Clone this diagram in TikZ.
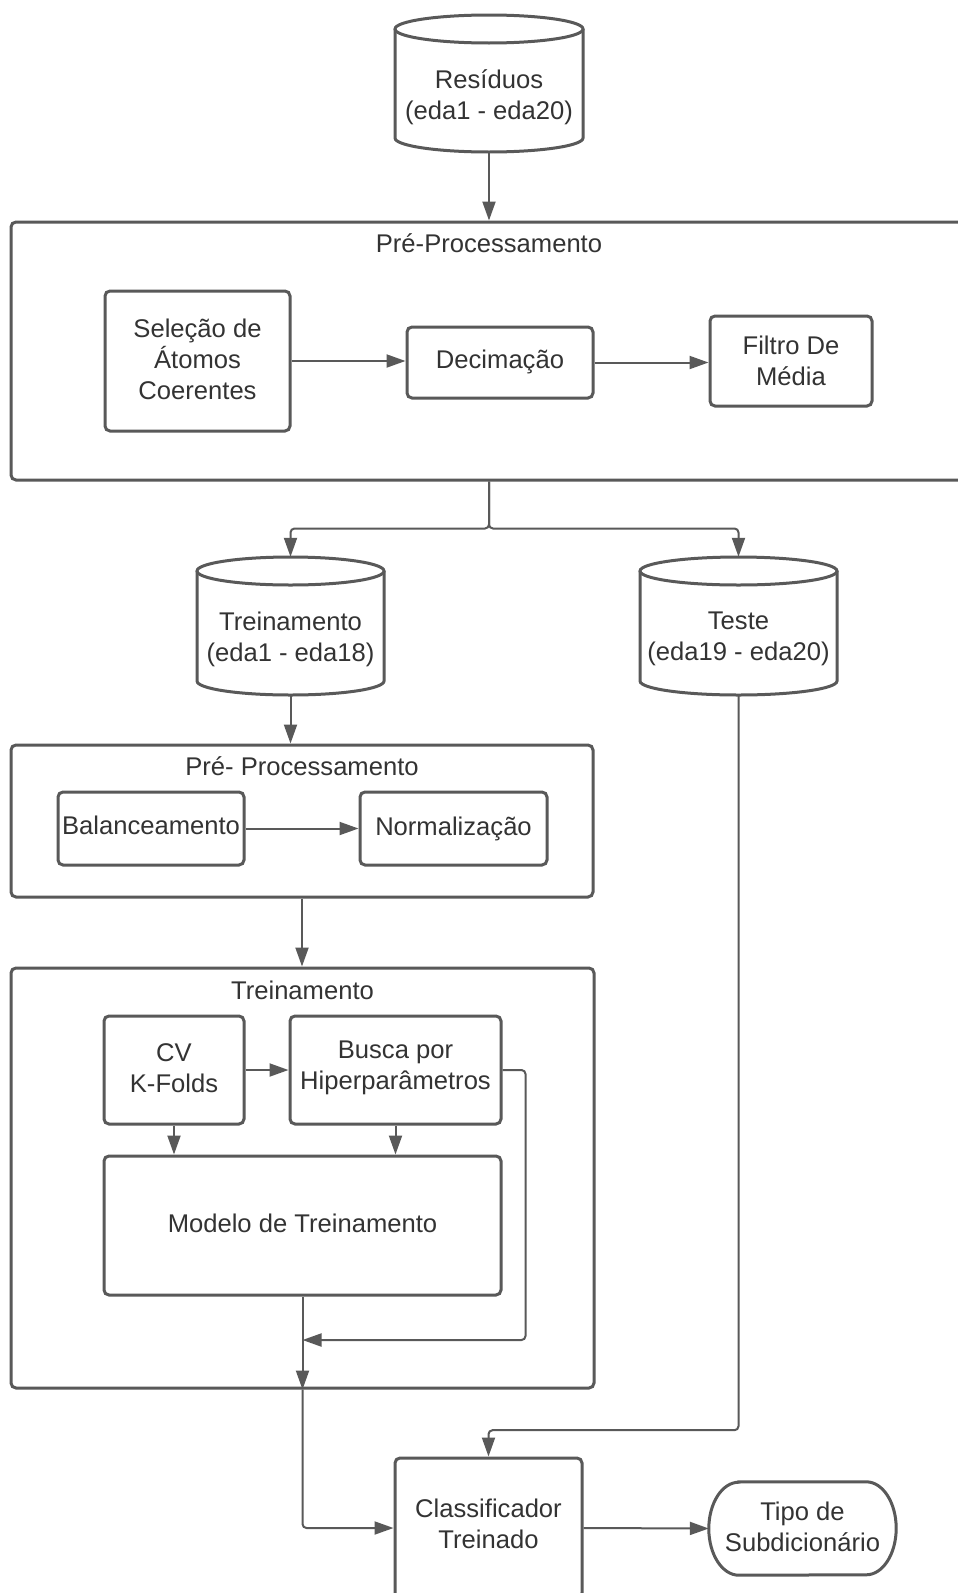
\documentclass[tikz,border=0pt]{standalone}
\usepackage{fontspec}
\setmainfont{Liberation Sans}
\usetikzlibrary{arrows.meta}
\definecolor{ln}{HTML}{595959}
\definecolor{tx}{HTML}{333333}
\newcommand{\dfont}{\fontsize{25.6}{31}\selectfont}
\begin{document}
\begin{tikzpicture}[x=1pt,y=1pt,
  frame/.style={draw=ln, line width=3pt, rounded corners=5pt, inner sep=0pt},
  lbl/.style={inner sep=0pt, align=center, text=tx, font=\dfont},
  ghost/.style={inner sep=0pt, draw=none},
  cylline/.style={draw=ln, line width=3pt},
  conn/.style={draw=ln, line width=2pt, rounded corners=4pt, -{Triangle[length=19pt,width=13pt]}}]
\fill[white] (0,0) rectangle (958,-1593);
\useasboundingbox (0,0) rectangle (958,-1593);

% Cylinders
\draw[cylline] (395,-29) -- (395,-138) arc[start angle=180,end angle=360,x radius=94,y radius=14] -- (583,-29);
\draw[cylline] (489,-29) ellipse[x radius=94,y radius=14];
\node[ghost, minimum width=188pt, minimum height=137pt] (res) at (489,-83.5) {};
\node[lbl] (resT) at (489,-97.5) {Resíduos\\(eda1 - eda20)};

\draw[cylline] (197,-571) -- (197,-681) arc[start angle=180,end angle=360,x radius=93.5,y radius=14] -- (384,-571);
\draw[cylline] (290.5,-571) ellipse[x radius=93.5,y radius=14];
\node[ghost, minimum width=187pt, minimum height=138pt] (trcyl) at (290.5,-626) {};
\node[lbl] (trT) at (290.5,-639) {Treinamento\\(eda1 - eda18)};

\draw[cylline] (640,-571) -- (640,-681) arc[start angle=180,end angle=360,x radius=98.5,y radius=14] -- (837,-571);
\draw[cylline] (738.5,-571) ellipse[x radius=98.5,y radius=14];
\node[ghost, minimum width=197pt, minimum height=138pt] (tecyl) at (738.5,-626) {};
\node[lbl] (teT) at (738.5,-639) {Teste\\(eda19 - eda20)};

% Pre-processamento 1
\node[frame, minimum width=956pt, minimum height=258pt] (pre1) at (489,-351) {};
\node[lbl] (pre1T) at (489,-243) {Pré-Processamento};
\node[frame, minimum width=185pt, minimum height=140pt] (sel) at (197.5,-361) {};
\node[lbl] (selT) at (197.5,-359) {Seleção de\\Átomos\\Coerentes};
\node[frame, minimum width=186pt, minimum height=71pt] (dec) at (500,-362.5) {};
\node[lbl] (decT) at (500,-361.5) {Decimação};
\node[frame, minimum width=162pt, minimum height=90pt] (fil) at (791,-361) {};
\node[lbl] (filT) at (791,-361) {Filtro De\\Média};

% Pre-processamento 2
\node[frame, minimum width=582pt, minimum height=152pt] (pre2) at (302,-821) {};
\node[lbl] (pre2T) at (302,-766) {Pré- Processamento};
\node[frame, minimum width=186pt, minimum height=73pt] (bal) at (151,-828.5) {};
\node[lbl] (balT) at (151,-825.5) {Balanceamento};
\node[frame, minimum width=187pt, minimum height=73pt] (nor) at (453.5,-828.5) {};
\node[lbl] (norT) at (453.5,-828.5) {Normalização};

% Treinamento
\node[frame, minimum width=583pt, minimum height=420pt] (trbox) at (302.5,-1178) {};
\node[lbl] (trboxT) at (302.5,-990) {Treinamento};
\node[frame, minimum width=140pt, minimum height=108pt] (cv) at (174,-1070) {};
\node[lbl] (cvT) at (174,-1068) {CV\\K-Folds};
\node[frame, minimum width=211pt, minimum height=108pt] (bus) at (395.5,-1070) {};
\node[lbl] (busT) at (395.5,-1068) {Busca por\\Hiperparâmetros};
\node[frame, minimum width=397pt, minimum height=139pt] (mod) at (302.5,-1225.5) {};
\node[lbl] (modT) at (302.5,-1223.5) {Modelo de Treinamento};
\coordinate (fb) at (302.5,-1340);

% Classificador and output
\node[frame, minimum width=187pt, minimum height=140pt] (clf) at (488.5,-1528) {};
\node[lbl] (clfT) at (488.5,-1524) {Classificador\\Treinado};
\node[ghost, minimum width=187pt, minimum height=93pt] (tipo) at (802.5,-1528.5) {};
\node[lbl] (tipoT) at (802.5,-1526.5) {Tipo de\\Subdicionário};
\draw[cylline] ([xshift=30pt]tipo.north west) -- ([xshift=-30pt]tipo.north east)
  arc[start angle=90,end angle=-90,x radius=30,y radius=46.5]
  -- ([xshift=30pt]tipo.south west)
  arc[start angle=270,end angle=90,x radius=30,y radius=46.5] -- cycle;

% Connectors
\draw[conn] (res.south) -- (pre1.north);
\draw[conn] (sel.east |- 0,-361) -- (dec.west |- 0,-361);
\draw[conn] (dec.east) -- (fil.west |- dec.east);
\draw[conn] (pre1.south) -- ++(0,-47) -| (trcyl.north);
\draw[conn] (pre1.south) -- ++(0,-47) -| (tecyl.north);
\draw[conn] (trcyl.south) -- (trcyl.south |- pre2.north);
\draw[conn] (bal.east) -- (nor.west);
\draw[conn] (pre2.south) -- (pre2.south |- trbox.north);
\draw[conn] (cv.east) -- (bus.west);
\draw[conn] (cv.south) -- (cv.south |- mod.north);
\draw[conn] (bus.south) -- (bus.south |- mod.north);
\draw[conn] (bus.east) -- ++(23,0) |- (fb);
\draw[conn] (mod.south) -- (trbox.south);
\draw[conn] (trbox.south) |- (clf.west);
\draw[conn] (tecyl.south) -- ++(0,-735) -| (clf.north);
\draw[conn] (clf.east) -- (tipo.west);
\end{tikzpicture}
\end{document}
